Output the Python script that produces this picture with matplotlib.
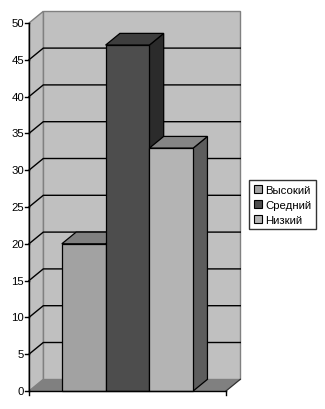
import matplotlib
matplotlib.use("Agg")
import matplotlib.pyplot as plt
from matplotlib.patches import Polygon, Patch

# ----- data ------------------------------------------------------------
SERIES = ["Высокий", "Средний", "Низкий"]
VALUES = [20, 47, 33]
Y_TICKS = [0, 5, 10, 15, 20, 25, 30, 35, 40, 45, 50]
Y_MAX = 50

# ----- style -----------------------------------------------------------
FRONT = ["#a2a2a2", "#4d4d4d", "#b4b4b4"]
TOP = ["#808080", "#3e3e3e", "#858585"]
SIDE = ["#6a6a6a", "#2b2b2b", "#5d5d5d"]
WALL = "#c0c0c0"
FLOOR = "#808080"
EDGE_GRAY = "#808080"

plt.rcParams["font.family"] = ["Liberation Sans", "DejaVu Sans"]

W_PX, H_PX = 325, 410
fig = plt.figure(figsize=(W_PX / 100, H_PX / 100), dpi=100)
fig.patch.set_facecolor("white")

# front plane of the 3-D box, in pixels
left_px, right_px = 29, 226
bottom_px, top_px = 392, 24        # measured from the top of the image
depth_dx_px, depth_dy_px = 14.3, 11.7

GAP = 0.75                         # space on each side of the bar group
W = GAP * 2 + len(VALUES)          # category width in bar units

ax = fig.add_axes([left_px / W_PX, (H_PX - bottom_px) / H_PX,
                   (right_px - left_px) / W_PX, (bottom_px - top_px) / H_PX])
ax.set_xlim(0, W)
ax.set_ylim(0, Y_MAX)
ax.axis("off")

DX = depth_dx_px / (right_px - left_px) * W
DY = depth_dy_px / (bottom_px - top_px) * Y_MAX
px_x = W / (right_px - left_px)      # data units per pixel (x)
px_y = Y_MAX / (bottom_px - top_px)  # data units per pixel (y)


def poly(pts, fc, ec="black", lw=0.9, z=1):
    ax.add_patch(Polygon(pts, closed=True, facecolor=fc, edgecolor=ec,
                         linewidth=lw, zorder=z, clip_on=False,
                         joinstyle="miter"))


# walls and floor
poly([(DX, DY), (W + DX, DY), (W + DX, Y_MAX + DY), (DX, Y_MAX + DY)],
     WALL, ec=EDGE_GRAY, lw=1.0, z=1)
poly([(0, 0), (DX, DY), (DX, Y_MAX + DY), (0, Y_MAX)],
     WALL, ec=EDGE_GRAY, lw=1.0, z=1)
poly([(0, 0), (W, 0), (W + DX, DY), (DX, DY)], FLOOR, ec="none", z=2)
ax.plot([W, W + DX], [0, DY], color="#303030", lw=0.9, zorder=2,
        clip_on=False)

# gridlines on back and side walls
for v in Y_TICKS[1:-1]:
    ax.plot([0, DX, W + DX], [v, v + DY, v + DY], color="black", lw=1.0,
            zorder=2, clip_on=False)

# value axis
ax.plot([0, 0], [0, Y_MAX], color="black", lw=1.0, zorder=3, clip_on=False)
ax.plot([0, W], [0, 0], color="black", lw=1.0, zorder=6, clip_on=False)
for v in Y_TICKS:
    ax.plot([-3.5 * px_x, 0], [v, v], color="black", lw=1.0, zorder=3,
            clip_on=False)
    ax.text(-5 * px_x, v, str(v), ha="right", va="center", fontsize=8.2,
            color="black")
for xt in (0, W):
    ax.plot([xt, xt], [0, -3.5 * px_y], color="black", lw=1.0, zorder=3,
            clip_on=False)

# bars
for i, (val, fc, tc, sc) in enumerate(zip(VALUES, FRONT, TOP, SIDE)):
    x0 = GAP + i
    x1 = x0 + 1
    z = 4 + i * 0.1
    poly([(x1, 0), (x1 + DX, DY), (x1 + DX, val + DY), (x1, val)], sc, z=z)
    poly([(x0, val), (x1, val), (x1 + DX, val + DY), (x0 + DX, val + DY)],
         tc, z=z)
    poly([(x0, 0), (x1, 0), (x1, val), (x0, val)], fc, z=z + 0.05)

# legend
handles = [Patch(facecolor=c, edgecolor="black", linewidth=0.8) for c in FRONT]
leg = fig.legend(handles, SERIES, loc="upper left",
                 bbox_to_anchor=(249 / W_PX, 1 - 181 / H_PX),
                 fontsize=8.2, frameon=True, fancybox=False, shadow=False,
                 handlelength=0.7, handleheight=0.7, handletextpad=0.3,
                 labelspacing=0.45, borderpad=0.4, borderaxespad=0)
leg.get_frame().set_edgecolor("black")
leg.get_frame().set_linewidth(1.0)

fig.savefig("out.png", dpi=100, facecolor="white")
